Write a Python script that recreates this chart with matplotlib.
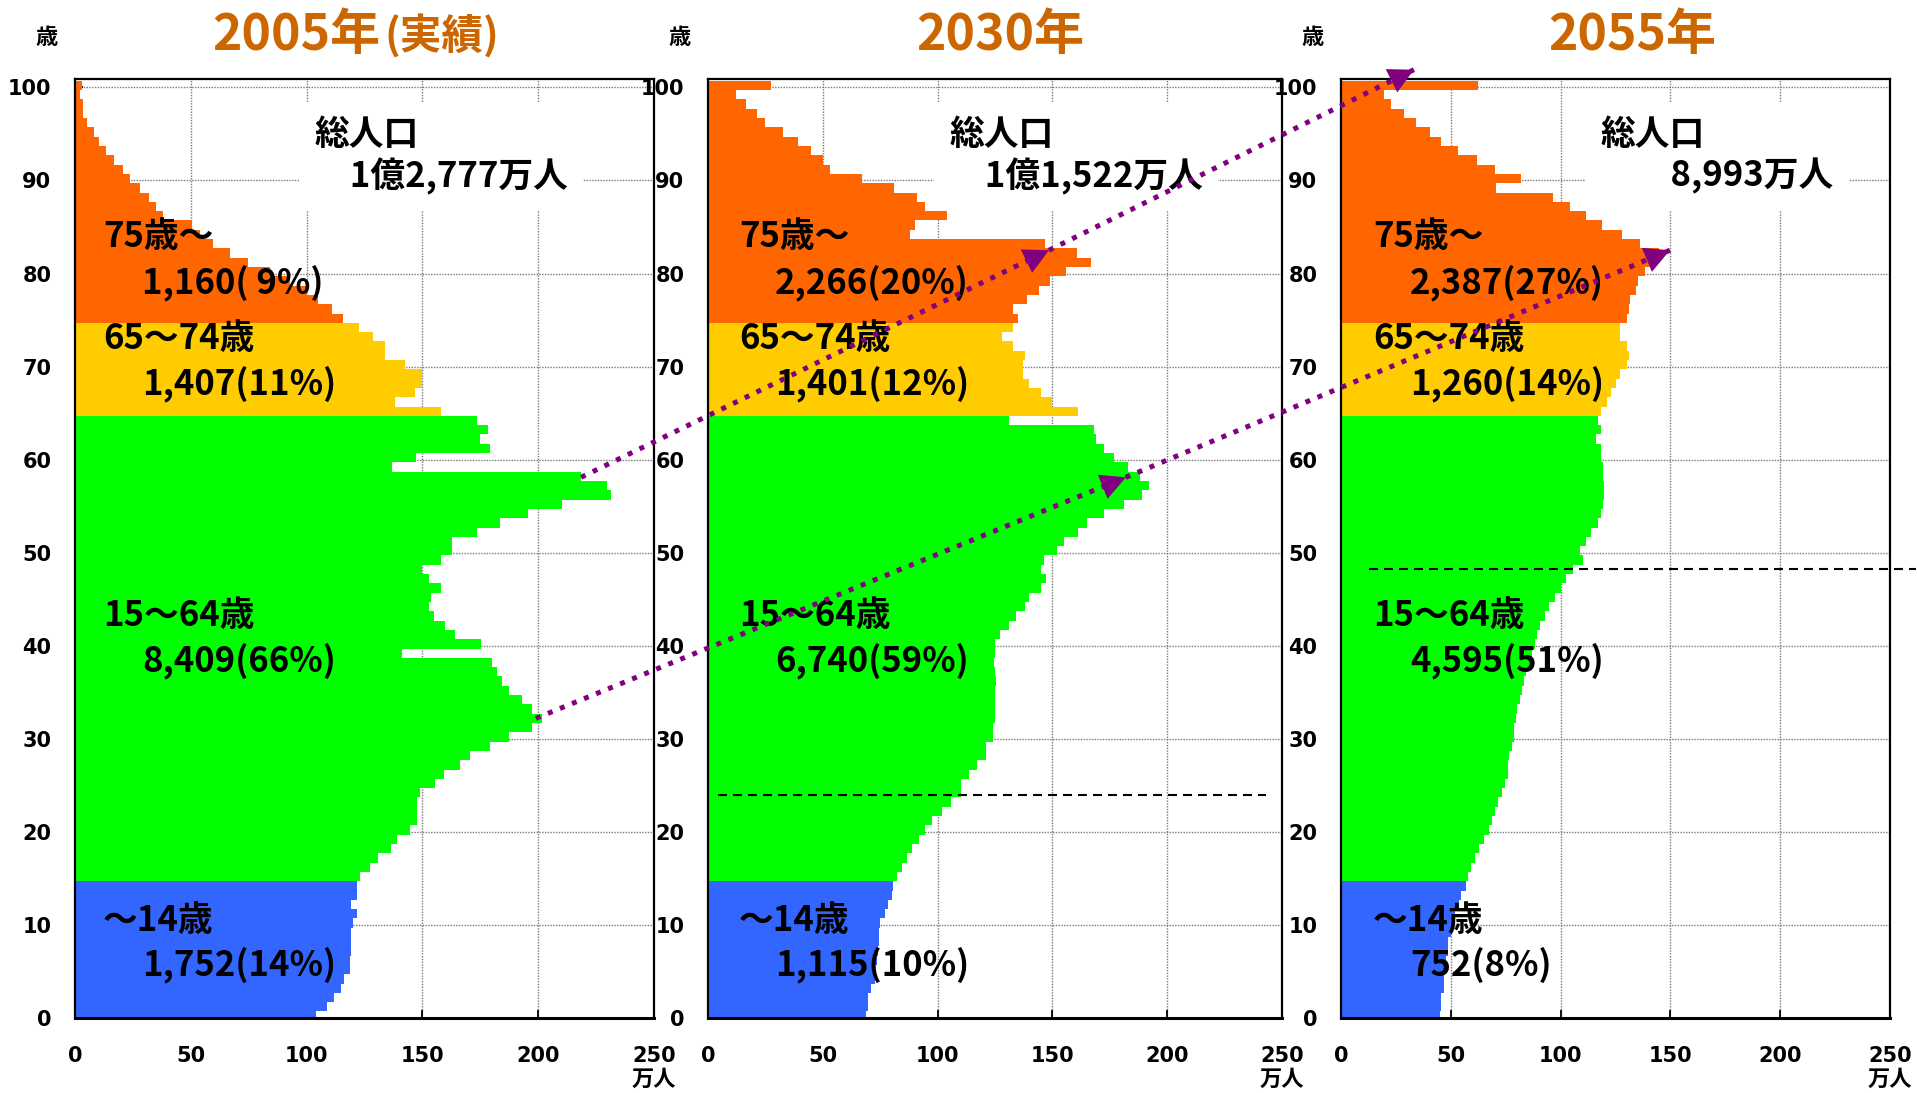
import numpy as np
import matplotlib
matplotlib.use('Agg')
import matplotlib.pyplot as plt
from matplotlib.lines import Line2D
from matplotlib.patches import Polygon
from matplotlib import transforms

plt.rcParams['font.family'] = ['Noto Sans CJK JP', 'DejaVu Sans']

# ---- data: population by single year of age (万人), ages 0..100 (100 = 100歳以上) ----
ages = np.arange(0, 101)

pop_2005 = [104.0, 108.9, 111.8, 114.9, 116.0, 118.7, 118.7, 119.2, 119.2, 119.2,
            120.0, 121.8, 119.2, 121.8, 121.8,
            122.9, 127.2, 131.0, 136.5, 139.2, 144.6, 147.7, 147.7, 147.7, 148.8,
            155.4, 159.3, 166.2, 170.5, 179.2, 187.4, 197.4, 201.5, 197.4, 193.2,
            187.4, 184.3, 182.0, 180.0, 141.4, 175.1, 163.9, 159.8, 155.0, 152.9,
            153.6, 158.0, 152.9, 150.0, 158.0, 162.6, 162.6, 173.4, 183.7, 195.5,
            210.2, 231.3, 229.5, 218.4, 137.0, 147.1, 179.4, 175.0, 178.4, 173.4,
            158.0, 138.0, 147.0, 150.0, 150.0, 142.5, 133.8, 133.8, 128.8, 122.7,
            115.8, 110.8, 105.0, 100.0, 93.0, 84.0, 74.5, 67.1, 59.8, 53.8,
            50.6, 38.0, 34.9, 31.9, 28.0, 23.7, 20.8, 16.8, 13.3, 10.3,
            8.2, 5.3, 3.3, 3.3, 2.2, 2.9]

pop_2030 = [69.0, 69.6, 69.6, 70.8, 72.6, 72.6, 73.4, 74.0, 74.3, 74.4,
            75.1, 77.0, 78.2, 80.0, 80.6,
            82.5, 84.6, 86.6, 88.9, 91.8, 94.5, 97.4, 102.0, 105.7, 110.3,
            110.3, 113.5, 117.3, 121.0, 121.0, 124.0, 124.0, 125.0, 125.0, 125.0,
            125.0, 125.6, 125.0, 124.6, 125.0, 125.0, 127.0, 131.0, 134.0, 138.0,
            139.6, 145.0, 147.0, 145.0, 146.5, 152.0, 155.0, 161.0, 165.0, 172.6,
            181.0, 189.0, 192.0, 188.0, 183.0, 177.0, 172.6, 169.2, 168.0, 131.0,
            161.0, 150.0, 145.0, 139.6, 137.0, 137.0, 138.0, 133.0, 128.0, 133.0,
            135.0, 133.0, 139.0, 144.0, 149.0, 156.0, 167.0, 160.6, 146.6, 88.0,
            90.0, 104.0, 94.7, 91.0, 81.0, 67.0, 53.0, 50.0, 45.0, 39.0,
            32.5, 25.0, 21.5, 16.5, 12.0, 27.4]

pop_2055 = [45.0, 45.7, 45.7, 47.1, 47.1, 47.8, 47.8, 48.5, 48.7, 50.2,
            50.5, 52.0, 53.8, 54.7, 56.8,
            57.7, 59.1, 60.9, 62.7, 65.1, 67.2, 68.6, 70.3, 71.7, 73.1,
            74.9, 76.2, 76.2, 76.7, 77.8, 78.7, 78.7, 79.6, 80.1, 81.4,
            82.5, 83.2, 84.4, 85.5, 86.8, 88.2, 89.4, 90.7, 93.0, 94.8,
            97.5, 100.0, 102.3, 105.5, 110.4, 109.0, 111.5, 114.0, 117.2, 118.6,
            119.3, 119.9, 119.9, 119.3, 119.3, 118.6, 118.6, 116.3, 118.4, 117.2,
            118.6, 121.1, 123.0, 125.2, 127.0, 130.2, 131.0, 130.2, 127.0, 127.0,
            130.2, 131.0, 131.5, 134.2, 135.4, 138.5, 141.3, 144.7, 136.3, 128.0,
            119.0, 111.6, 104.5, 96.6, 70.7, 82.1, 70.3, 62.0, 53.1, 45.6,
            40.6, 34.3, 28.6, 22.7, 19.7, 62.6]

years = ['2005年', '2030年', '2055年']
year_notes = ['(実績)', '', '']
totals = ['1億2,777万人', '1億1,522万人', '8,993万人']
total_indent = ['\u3000', '\u3000', '\u3000\u3000']
group_names = ['75歳～', '65～74歳', '15～64歳', '～14歳']
group_values = [
    ['1,160( 9%)', '1,407(11%)', '8,409(66%)', '1,752(14%)'],
    ['2,266(20%)', '1,401(12%)', '6,740(59%)', '1,115(10%)'],
    ['2,387(27%)', '1,260(14%)', '4,595(51%)', '752(8%)'],
]

# cohort arrows (born 1947-49 and born 1971-74): (panel, x, age) of each point
cohort_upper = [(0, 218.5, 58.1), (1, 148.5, 82.5), (2, 33.2, 101.9)]
cohort_lower = [(0, 199.0, 32.2), (1, 182.0, 58.1), (2, 149.8, 82.5)]
# dashed reference lines: (panel, age, x from, x to)
dashed_lines = [(1, 24.0, 4.3, 243.0), (2, 48.3, 12.7, 262.0)]

c_old = '#FF6600'
c_mid = '#FFCC00'
c_work = '#00FF00'
c_child = '#3366FF'


def age_color(a):
    if a >= 75:
        return c_old
    if a >= 65:
        return c_mid
    if a >= 15:
        return c_work
    return c_child


colors = [age_color(a) for a in ages]

W, H = 1917, 1093
fig = plt.figure(figsize=(W / 100, H / 100), dpi=100)

# axes placement in pixels (left, right)
panel_px = [(75, 654), (708, 1282), (1341, 1890)]
top_px, bot_px = 79, 1018
title_x = [380, 1000, 1632]

tick_font = dict(family='DejaVu Sans', weight='bold', size=15)
label_font = dict(family=['Noto Sans CJK JP', 'DejaVu Sans'], weight='bold')

axes = []
for i, pop in enumerate([pop_2005, pop_2030, pop_2055]):
    l, r = panel_px[i]
    ax = fig.add_axes([l / W, 1 - bot_px / H, (r - l) / W, (bot_px - top_px) / H])
    axes.append(ax)
    ax.barh(ages + 0.2, pop, height=1.0, color=colors, linewidth=0,
            antialiased=False, zorder=2)
    ax.set_xlim(0, 250)
    ax.set_ylim(0, 100.9)
    ax.set_axisbelow(True)
    ax.grid(True, color='#7a7a7a', linestyle=(0, (1, 1)), linewidth=1.0)
    ax.set_xticks(np.arange(0, 251, 50))
    ax.set_yticks(np.arange(0, 101, 10))
    ax.set_xticklabels([str(v) for v in range(0, 251, 50)], fontdict=tick_font)
    ax.set_yticklabels([str(v) for v in range(0, 101, 10)], fontdict=tick_font)
    ax.tick_params(axis='both', direction='in', length=6, width=1.3)
    ax.tick_params(axis='y', pad=17)
    ax.tick_params(axis='x', pad=20)
    for s in ax.spines.values():
        s.set_linewidth(1.6)
    ax.spines['bottom'].set_linewidth(2.2)

    # unit labels
    ax.text(-28 / (r - l), 1 + (top_px - 37) / (bot_px - top_px), '歳',
            transform=ax.transAxes, ha='center', va='center', fontsize=16, **label_font)
    tr = transforms.blended_transform_factory(ax.transData, ax.transAxes)
    ax.text(250, -(1079 - bot_px) / (bot_px - top_px), '万人', transform=tr,
            ha='center', va='center', fontsize=16, **label_font)

    # age group labels
    name_x = [12.1, 13.5, 14.6][i]
    val_x = [28.9, 29.2, 31.4][i]
    for j, (ny, vy) in enumerate([(84.0, 79.0), (73.0, 68.2), (43.3, 38.4), (10.5, 5.7)]):
        ax.text(name_x, ny, group_names[j], ha='left', va='center', fontsize=25,
                zorder=5, **label_font)
        ax.text(val_x, vy, group_values[i][j], ha='left', va='center', fontsize=25,
                zorder=5, **label_font)

    # total population
    tot_x = [103.6, 105.4, 118.4][i]
    ax.text(tot_x, 92.65, '総人口\n' + total_indent[i] + totals[i], ha='left',
            va='center', fontsize=25, linespacing=1.2, zorder=5,
            bbox=dict(boxstyle='square,pad=0.45', fc='white', ec='none'), **label_font)

    # titles
    title_col = '#CC6600'
    fy = 1 - 50 / H
    if year_notes[i]:
        fig.text(title_x[i] / W, fy, years[i], ha='right', va='baseline',
                 fontsize=36, color=title_col, **label_font)
        fig.text((title_x[i] + 4) / W, fy, year_notes[i], ha='left', va='baseline',
                 fontsize=30, color=title_col, **label_font)
    else:
        fig.text(title_x[i] / W, fy, years[i], ha='center', va='baseline',
                 fontsize=36, color=title_col, **label_font)

for p, a, x0, x1 in dashed_lines:
    axes[p].plot([x0, x1], [a, a], color='black', lw=1.5, linestyle=(0, (4.3, 2.9)),
                 zorder=4, clip_on=False)

# cohort arrows across panels
purple = '#800080'
inv = fig.transFigure.inverted()
for cohort in [cohort_upper, cohort_lower]:
    pts_px = np.array([axes[p].transData.transform((x, a)) for p, x, a in cohort])
    pts_fig = inv.transform(pts_px)
    fig.add_artist(Line2D(pts_fig[:, 0], pts_fig[:, 1], transform=fig.transFigure,
                          color=purple, lw=3.6, linestyle=(0, (1, 1.6)),
                          dash_capstyle='butt', zorder=10))
    for k in (1, 2):
        tip = pts_px[k]
        u = pts_px[k] - pts_px[k - 1]
        u = u / np.hypot(*u)
        n = np.array([-u[1], u[0]])
        base = tip - u * 25
        tri = np.array([tip, base + n * 13, base - n * 13])
        fig.add_artist(Polygon(inv.transform(tri), closed=True, transform=fig.transFigure,
                               fc=purple, ec='none', zorder=11))

fig.savefig('out.png', dpi=100)
